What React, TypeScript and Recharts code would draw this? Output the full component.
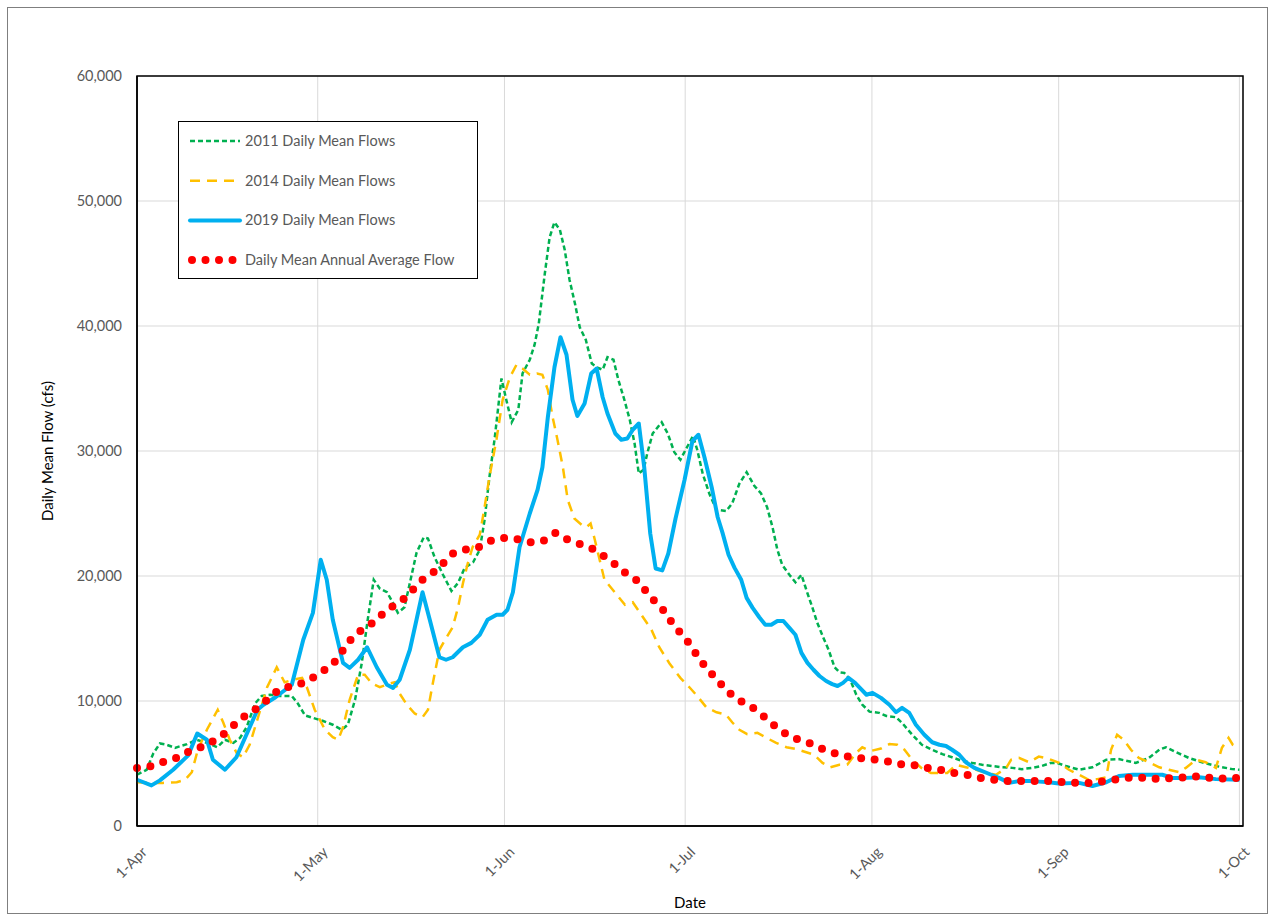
import {
  LineChart,
  Line,
  XAxis,
  YAxis,
  CartesianGrid,
  ReferenceArea,
  Legend,
  Label,
} from 'recharts'

// day index from 1-Apr (0) to 1-Oct (183)
const MONTH_TICKS = [0, 30, 61, 91, 122, 153, 183]
const MONTH_LABELS = ['1-Apr', '1-May', '1-Jun', '1-Jul', '1-Aug', '1-Sep', '1-Oct']
const FLOW_TICKS = [0, 10000, 20000, 30000, 40000, 50000, 60000]

const SERIES_NAMES = [
  '2011 Daily Mean Flows',
  '2014 Daily Mean Flows',
  '2019 Daily Mean Flows',
  'Daily Mean Annual Average Flow',
]

// [day, cfs]
const FLOW_2011: [number, number][] = [
  [0, 4100], [1.6, 4500], [2.7, 5800], [3.8, 6600], [4.9, 6500], [6.3, 6250], [8.3, 6550],
  [9.9, 6900], [11.6, 6650], [13.3, 6300], [14.6, 6900], [16, 6650], [17.1, 7050], [18.2, 7900],
  [19.6, 9800], [20.7, 10400], [22.1, 10500], [23.7, 10400], [25.7, 10400], [26.7, 9800],
  [27.9, 8850], [29.2, 8650], [30.9, 8400], [32.5, 8100], [34, 7700], [35, 8100], [36.2, 10100],
  [37.3, 13000], [38.3, 16500], [39.3, 19700], [40.3, 19000], [41.5, 18700], [42.5, 17850],
  [43.3, 17050], [44.4, 17500], [45.3, 19450], [46.4, 21850], [47.6, 23100], [48.3, 23000],
  [49.4, 21500], [50.8, 20100], [52.2, 18800], [53.3, 19450], [54.4, 20650], [55.8, 21100],
  [56.9, 22100], [57.7, 24500], [58.5, 27900], [59.4, 31100], [60.5, 35800], [61.3, 34100],
  [62.2, 32300], [63.3, 33300], [64, 36200], [65.2, 37300], [66, 38500], [66.7, 40200],
  [67.7, 44200], [68.5, 47100], [69.3, 48300], [70.2, 47700], [71, 46100], [71.8, 43700],
  [72.7, 41800], [73.5, 39900], [74.5, 38900], [75.5, 37000], [76.3, 36700], [77.3, 36500],
  [78.1, 37500], [79.1, 37300], [79.9, 35700], [80.9, 34100], [81.8, 32500], [82.6, 30600],
  [83.3, 28200], [84.1, 28500], [84.7, 29800], [85.6, 31400], [87.1, 32300], [88.1, 31400],
  [89.2, 29900], [90.2, 29300], [91.3, 30300], [92.3, 31200], [93, 30100], [93.9, 28200],
  [95, 26600], [96.2, 25300], [97.8, 25200], [98.8, 25800], [100, 27400], [101.2, 28300],
  [102.5, 27200], [103.6, 26600], [104.6, 25500], [105.5, 23900], [106.3, 22100], [107.1, 20900],
  [108.3, 20100], [109.3, 19500], [110.3, 20100], [111.1, 18900], [112.1, 17500], [112.9, 16300],
  [113.9, 15100], [114.8, 14100], [115.8, 12700], [116.6, 12300], [117.4, 12250], [118.4, 11700],
  [119.4, 10500], [120.4, 9700], [121.6, 9150], [123.2, 9050], [124.4, 8800], [126, 8700],
  [127, 8250], [128.7, 7300], [130.3, 6500], [132, 6100], [133.7, 5750], [135.3, 5500],
  [137, 5200], [138.6, 5050], [140.3, 4900], [142, 4800], [143.6, 4700], [145.3, 4650],
  [146.9, 4550], [148.6, 4650], [150.2, 4800], [151.7, 5050], [152.7, 5050], [154.2, 4800],
  [156.4, 4500], [158.6, 4700], [160.9, 5300], [163, 5350], [165.8, 5050], [168, 5450],
  [169.7, 6100], [170.8, 6300], [172.5, 5900], [174.6, 5450], [176.8, 5100], [179.1, 4800],
  [181.8, 4550], [183, 4500],
]

const FLOW_2014: [number, number][] = [
  [0, 3500], [2.2, 3450], [4.3, 3450], [6.6, 3500], [8, 3700], [9.1, 4300], [10.1, 6100],
  [11.6, 7700], [13.4, 9300], [14.3, 8300], [15.4, 6900], [16.6, 5800], [17.6, 5500],
  [18.7, 6500], [20.1, 8700], [21.6, 11100], [23.2, 12700], [24.5, 11500], [25.9, 11700],
  [27.4, 11850], [28.2, 11100], [29.5, 9300], [31.2, 7700], [32.5, 7100], [33.4, 6900],
  [34.2, 7900], [35.3, 10100], [36.7, 12100], [37.8, 12100], [39, 11400], [40.3, 11100],
  [42, 11400], [42.8, 11500], [43.6, 10600], [44.8, 9700], [46.1, 9000], [47.4, 8700],
  [48.3, 9300], [49.1, 11400], [50.2, 14100], [51.4, 15100], [52.4, 15900], [53.3, 17500],
  [54.1, 19400], [54.9, 21000], [55.7, 22300], [56.9, 23300], [57.7, 25500], [58.5, 27900],
  [59.7, 31000], [60.7, 34100], [61.9, 35900], [63, 36900], [64, 36600], [65.2, 36100],
  [66.4, 36200], [67.3, 36100], [68.2, 34900], [69, 32700], [69.8, 30900], [70.7, 28700],
  [71.5, 26100], [72.6, 24600], [73.8, 24100], [74.6, 23900], [75.3, 24200], [76, 22900],
  [77.6, 19700], [79.3, 18700], [81, 17700], [82.3, 17900], [84, 16700], [85.4, 15700],
  [86.7, 14300], [88.4, 13000], [90.2, 11850], [91.7, 11100], [93, 10400], [94.5, 9500],
  [96.2, 9100], [97.8, 8900], [98.8, 8300], [100, 7700], [101.3, 7350], [103, 7450],
  [104.5, 7050], [106.1, 6650], [107.8, 6300], [109.5, 6150], [111.1, 5900], [112.4, 5700],
  [113.8, 5050], [115.1, 4700], [116.6, 4900], [117.9, 4900], [119.4, 5850], [120.4, 6300],
  [121.8, 6000], [123.5, 6200], [124.9, 6550], [126.2, 6500], [127.4, 6100], [128.7, 5300],
  [130.2, 4650], [131.8, 4250], [133.5, 4250], [134.5, 4250], [136, 4900], [137.6, 4700],
  [139.3, 4500], [141, 4250], [142.6, 4100], [144.3, 4650], [145.1, 5300], [146.4, 5450],
  [148.1, 5100], [149.7, 5550], [151.2, 5400], [153.1, 5050], [154.7, 4500], [156.4, 4100],
  [158, 3700], [159.4, 3750], [160.9, 3900], [161.7, 6100], [162.7, 7300], [163.8, 6900],
  [165, 6100], [166.3, 5450], [168, 5100], [169.7, 4700], [171.3, 4500], [173, 4300],
  [174.1, 4650], [175.8, 5300], [177.4, 5100], [179.1, 4650], [180.1, 6250], [181.2, 7050],
  [181.9, 6500], [183, 6200],
]

const FLOW_2019: [number, number][] = [
  [0, 3700], [2.4, 3250], [3.8, 3650], [6, 4500], [8.5, 5650], [10, 7400], [11.6, 6900],
  [12.6, 5300], [14.6, 4500], [16.5, 5500], [20, 9300], [21, 9700], [23, 10300], [25.7, 11300],
  [27.6, 14900], [29.2, 17050], [30.5, 21300], [31.5, 19700], [32.5, 16500], [34.2, 13050],
  [35.3, 12650], [36.7, 13300], [38.2, 14300], [39.8, 12700], [41.5, 11300], [42.5, 11050],
  [43.6, 11700], [45.3, 14100], [46.4, 16500], [47.4, 18700], [48.6, 16500], [50.2, 13500],
  [51.3, 13300], [52.4, 13500], [54.1, 14300], [55.5, 14650], [56.9, 15300], [58.2, 16500],
  [59.7, 16900], [60.7, 16900], [61.5, 17300], [62.4, 18700], [63.5, 22300], [65.2, 25000],
  [66.5, 26900], [67.3, 28700], [68.2, 32700], [69.3, 36700], [70.3, 39100], [71.3, 37700],
  [72.3, 34100], [73.1, 32800], [74.3, 33800], [75.4, 36200], [76.3, 36600], [77.3, 34300],
  [78.1, 33000], [79.4, 31400], [80.4, 30900], [81.4, 31000], [82.3, 31700], [83.3, 32200],
  [84.2, 28700], [85.2, 23400], [86.1, 20600], [87.2, 20450], [88.2, 21800], [89.4, 24600],
  [90.9, 27700], [92.2, 30800], [93.2, 31300], [94.2, 29500], [95.4, 27100], [96.4, 24700],
  [97.2, 23450], [98.2, 21700], [99.2, 20650], [100.3, 19700], [101.2, 18250], [102.2, 17450],
  [103.3, 16700], [104.3, 16100], [105.3, 16100], [106.3, 16400], [107.3, 16400],
  [108.3, 15850], [109.3, 15300], [110.3, 13850], [111.3, 13050], [112.3, 12500],
  [113.3, 12000], [114.4, 11600], [115.4, 11350], [116.3, 11200], [117.2, 11450],
  [118.1, 11850], [119.2, 11450], [120.2, 10950], [121.1, 10500], [122.1, 10650],
  [123.5, 10250], [124.9, 9700], [126, 9100], [127, 9450], [128.2, 9050], [129.3, 8100],
  [130.7, 7300], [132, 6700], [133.2, 6500], [134.3, 6400], [135.3, 6100], [136.5, 5700],
  [137.6, 5100], [139, 4650], [140.3, 4400], [141.8, 4100], [143.1, 3850], [144.8, 3450],
  [146.4, 3600], [148.1, 3600], [149.7, 3550], [151.4, 3500], [153, 3400], [156.4, 3450],
  [158.6, 3200], [160.9, 3500], [163, 4000], [165.3, 4100], [168, 4100], [170.2, 4100],
  [171.9, 3850], [174.1, 3850], [176.3, 3900], [179.1, 3750], [183, 3700],
]

const FLOW_AVERAGE: [number, number][] = [
  [0, 4650], [2.6, 4800], [4.8, 5200], [7, 5500], [9.1, 6100], [11.3, 6400], [13.2, 6950],
  [15.1, 7600], [16.8, 8400], [18.6, 9050], [20.6, 9600], [22.2, 10400], [24, 11050],
  [26.2, 11200], [28.4, 11600], [30.3, 12250], [32.3, 12800], [33.7, 13700], [35, 14650],
  [36.5, 15450], [38.5, 16000], [40.1, 16700], [42, 17450], [43.9, 18000], [45.6, 18800],
  [47.1, 19600], [49.1, 20250], [50.7, 20950], [52.2, 21750], [54.4, 22100], [56.5, 22250],
  [58.5, 22800], [60.7, 23050], [63, 22950], [65.3, 22700], [67.4, 22800], [69.5, 23450],
  [71.5, 22900], [73.6, 22550], [75.8, 22150], [77.8, 21500], [79.6, 20850], [81.3, 20150],
  [83.3, 19550], [84.7, 18650], [86.2, 17850], [87.8, 17050], [89, 16100], [90.5, 15300],
  [92, 14400], [93.2, 13450], [94.7, 12550], [96.2, 11750], [97.8, 10900], [99.5, 10150],
  [101.5, 9700], [103.3, 9100], [105.1, 8300], [107, 7600], [108.8, 7050], [110.9, 6800],
  [113.1, 6300], [115.2, 5900], [117.4, 5600], [119.7, 5450], [121.8, 5350], [124.3, 5200],
  [126.5, 4950], [128.7, 4900], [131, 4650], [133.3, 4500], [135.5, 4250], [137.8, 4100],
  [140, 3850], [142.3, 3700], [144.6, 3600], [146.9, 3600], [149.3, 3600], [151.6, 3600],
  [153.8, 3500], [156, 3450], [158.4, 3450], [160.7, 3600], [162.9, 3750], [165.2, 3900],
  [167.5, 3850], [169.8, 3750], [172, 3850], [174.3, 3900], [176.6, 4000], [179, 3750],
  [181.2, 3850], [183, 3850],
]

const toRows = (pts: [number, number][]) => pts.map(([d, v]) => ({ d, v }))

const FONT = 'Lato, "Open Sans", sans-serif'
const TICK_COLOR = '#595959'

const LEGEND_STYLES = [
  { color: '#00b050', width: 2.5, dash: '5 3', cap: 'butt' as const },
  { color: '#ffc000', width: 2.5, dash: '10 7', cap: 'butt' as const },
  { color: '#00b0f0', width: 4, dash: undefined, cap: 'round' as const },
  { color: '#ff0000', width: 8, dash: '0 13.5', cap: 'round' as const },
]

function MonthTick({ x, y, payload }: { x?: number; y?: number; payload?: { value: number } }) {
  const i = MONTH_TICKS.indexOf(payload?.value ?? -1)
  const ax = (x ?? 0) + 11
  const ay = (y ?? 0) + 25
  return (
    <text
      x={ax}
      y={ay}
      transform={`rotate(-45, ${ax}, ${ay})`}
      textAnchor="end"
      fill={TICK_COLOR}
      fontSize={14.5}
      fontFamily={FONT}
    >
      {MONTH_LABELS[i] ?? ''}
    </text>
  )
}

function LegendBox() {
  return (
    <div
      style={{
        width: 300,
        height: 158,
        border: '1.5px solid #000',
        background: '#fff',
        boxSizing: 'border-box',
        position: 'relative',
      }}
    >
      <svg width={298} height={156} style={{ position: 'absolute', left: 0, top: 0 }}>
        {SERIES_NAMES.map((name, i) => {
          const s = LEGEND_STYLES[i]
          const cy = 19 + i * 39.7
          return (
            <g key={name}>
              <line
                x1={s.cap === 'round' && s.dash ? 13 : 11}
                x2={s.cap === 'round' && s.dash ? 63 : 61}
                y1={cy}
                y2={cy}
                stroke={s.color}
                strokeWidth={s.width}
                strokeDasharray={s.dash}
                strokeLinecap={s.cap}
              />
              <text
                x={66}
                y={cy + 5}
                fill={TICK_COLOR}
                fontSize={14.5}
                fontFamily={FONT}
              >
                {name}
              </text>
            </g>
          )
        })}
      </svg>
    </div>
  )
}

export default function App() {
  return (
    <div
      style={{
        position: 'absolute',
        left: 0,
        top: 0,
        width: 1276,
        height: 922,
        background: '#fff',
      }}
    >
      <div
        style={{
          position: 'absolute',
          left: 7,
          top: 7,
          width: 1261,
          height: 907,
          border: '1px solid #7f7f7f',
          boxSizing: 'border-box',
        }}
      />
      <LineChart
        width={1276}
        height={922}
        margin={{ top: 76, right: 33, left: 57, bottom: 36 }}
        style={{ fontFamily: FONT }}
      >
        <CartesianGrid stroke="#d9d9d9" strokeWidth={1} />
        <XAxis
          dataKey="d"
          type="number"
          domain={[0, 183.6]}
          ticks={MONTH_TICKS}
          tick={<MonthTick />}
          tickLine={false}
          tickSize={0}
          axisLine={{ stroke: '#000', strokeWidth: 1.5 }}
          height={60}
          interval={0}
          allowDecimals
        >
          <Label
            value="Date"
            position="insideBottom"
            offset={-22}
            fill="#000"
            fontSize={15}
            fontFamily={FONT}
          />
        </XAxis>
        <YAxis
          type="number"
          domain={[0, 60000]}
          ticks={FLOW_TICKS}
          tickFormatter={(v: number) => v.toLocaleString('en-US')}
          tick={{ fill: TICK_COLOR, fontSize: 14.5, fontFamily: FONT }}
          tickLine={false}
          tickSize={0}
          tickMargin={15}
          axisLine={{ stroke: '#000', strokeWidth: 1.5 }}
          width={80}
        >
          <Label
            value="Daily Mean Flow (cfs)"
            angle={-90}
            position="insideLeft"
            offset={-9}
            fill="#000"
            fontSize={15}
            fontFamily={FONT}
            style={{ textAnchor: 'middle' }}
          />
        </YAxis>
        <ReferenceArea
          x1={0}
          x2={183.6}
          y1={0}
          y2={60000}
          fill="none"
          stroke="#000"
          strokeWidth={1.5}
          ifOverflow="visible"
        />
        <Line
          data={toRows(FLOW_2011)}
          dataKey="v"
          name={SERIES_NAMES[0]}
          type="linear"
          stroke="#00b050"
          strokeWidth={2.5}
          strokeDasharray="5 3"
          dot={false}
          activeDot={false}
          isAnimationActive={false}
        />
        <Line
          data={toRows(FLOW_2014)}
          dataKey="v"
          name={SERIES_NAMES[1]}
          type="linear"
          stroke="#ffc000"
          strokeWidth={2.5}
          strokeDasharray="10 7"
          dot={false}
          activeDot={false}
          isAnimationActive={false}
        />
        <Line
          data={toRows(FLOW_2019)}
          dataKey="v"
          name={SERIES_NAMES[2]}
          type="linear"
          stroke="#00b0f0"
          strokeWidth={4}
          strokeLinejoin="round"
          dot={false}
          activeDot={false}
          isAnimationActive={false}
        />
        <Line
          data={toRows(FLOW_AVERAGE)}
          dataKey="v"
          name={SERIES_NAMES[3]}
          type="linear"
          stroke="#ff0000"
          strokeWidth={8}
          strokeDasharray="0 13.5"
          strokeLinecap="round"
          dot={false}
          activeDot={false}
          isAnimationActive={false}
        />
        <Legend
          content={<LegendBox />}
          layout="vertical"
          align="center"
          verticalAlign="middle"
          wrapperStyle={{ left: 178, top: 121, width: 300, height: 158 }}
        />
      </LineChart>
    </div>
  )
}
